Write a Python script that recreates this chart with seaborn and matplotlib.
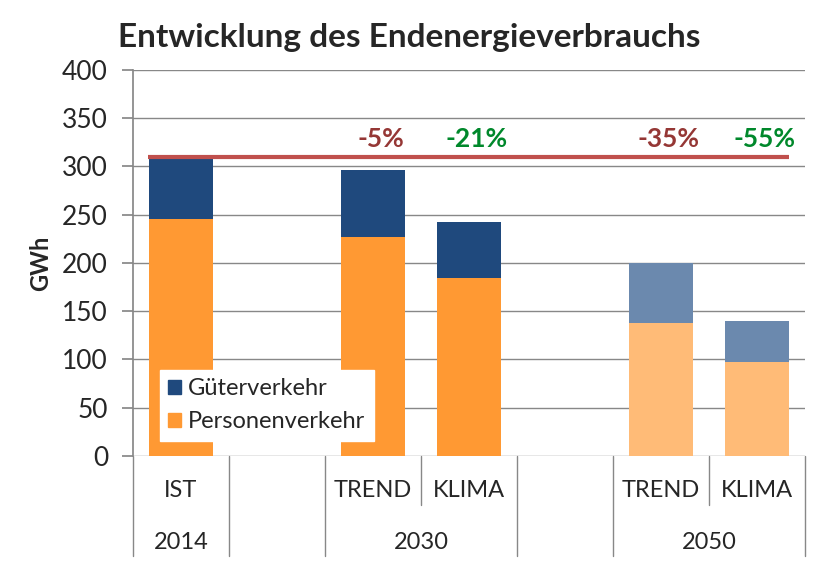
import numpy as np
import pandas as pd
import matplotlib.pyplot as plt
import matplotlib.transforms as mtransforms
from matplotlib.patches import Patch
import seaborn as sns

# data
slots = ["IST", "b1", "TREND30", "KLIMA30", "b2", "TREND50", "KLIMA50"]
slot_labels = ["IST", "", "TREND", "KLIMA", "", "TREND", "KLIMA"]
bars = ["IST", "TREND30", "KLIMA30", "TREND50", "KLIMA50"]
personen = [246, 227, 184, 138, 97]
gueter = [62, 69, 59, 62, 43]
years = ["2014", "", "2030", "", "2050"]
year_spans = [(0, 0), (1, 1), (2, 3), (4, 4), (5, 6)]
reference = 310
pct_labels = ["-5%", "-21%", "-35%", "-55%"]
pct_slots = ["TREND30", "KLIMA30", "TREND50", "KLIMA50"]
pct_colors = ["#953735", "#00882B", "#953735", "#00882B"]

sns.set_theme(style="white")
plt.rcParams['font.family'] = ['Lato', 'DejaVu Sans']

df = pd.DataFrame({"slot": bars,
                   "Personenverkehr": personen,
                   "total": np.array(personen) + np.array(gueter)})

blue_pal = {"IST": "#1F497D", "TREND30": "#1F497D", "KLIMA30": "#1F497D",
            "TREND50": "#6B89AE", "KLIMA50": "#6B89AE"}
orange_pal = {"IST": "#FF9933", "TREND30": "#FF9933", "KLIMA30": "#FF9933",
              "TREND50": "#FFBB77", "KLIMA50": "#FFBB77"}

fig = plt.figure(figsize=(8.18, 5.77), dpi=100)
ax = fig.add_axes([0.1626, 0.2097, 0.8215, 0.669])

sns.barplot(data=df, x="slot", y="total", hue="slot", palette=blue_pal,
            order=slots, hue_order=bars, width=0.67, dodge=False,
            legend=False, saturation=1, linewidth=0, ax=ax, zorder=3)
sns.barplot(data=df, x="slot", y="Personenverkehr", hue="slot", palette=orange_pal,
            order=slots, hue_order=bars, width=0.67, dodge=False,
            legend=False, saturation=1, linewidth=0, ax=ax, zorder=3)

ax.set_xlim(-0.5, 6.5)
ax.set_ylim(0, 400)
ax.set_yticks(range(0, 401, 50))
ax.tick_params(axis='y', labelsize=19, length=8, color="#888888", direction="out", left=True, pad=10)
ax.yaxis.grid(True, color="#888888", linewidth=1)
ax.set_axisbelow(True)
ax.set_xticks([])
ax.set_xlabel("")
ax.set_ylabel("GWh", fontsize=17, fontweight="bold", labelpad=7)
for s in ["top", "right", "bottom"]:
    ax.spines[s].set_visible(False)
ax.spines["left"].set_color("#888888")

# reference line
ax.hlines(reference, -0.34, 6.33, color="#C0504D", linewidth=3, zorder=4)
for lab, sl, c in zip(pct_labels, pct_slots, pct_colors):
    ax.text(slots.index(sl) + 0.08, 329, lab, color=c, fontsize=19, fontweight="bold",
            ha="center", va="center")

# category table under the axis
tr = mtransforms.blended_transform_factory(ax.transData, ax.transAxes)
bottom = -0.259
mid = -0.127
full_lines = [-0.5, 0.5, 1.5, 3.5, 4.5, 6.5]
short_lines = [2.5, 5.5]
for x in full_lines:
    ax.plot([x, x], [0, bottom], color="#888888", lw=1, transform=tr, clip_on=False)
for x in short_lines:
    ax.plot([x, x], [0, mid], color="#888888", lw=1, transform=tr, clip_on=False)
for i, lab in enumerate(slot_labels):
    ax.text(i, -0.09, lab, transform=tr, ha="center", va="center", fontsize=17)
for yr, (a, b) in zip(years, year_spans):
    ax.text((a + b) / 2, -0.225, yr, transform=tr, ha="center", va="center", fontsize=17)

handles = [Patch(color="#1F497D", label="Güterverkehr"),
           Patch(color="#FF9933", label="Personenverkehr")]
leg = ax.legend(handles=handles, loc="lower left", bbox_to_anchor=(0.04, 0.04),
                fontsize=17, frameon=True, fancybox=False, edgecolor="white",
                framealpha=1, handlelength=0.55, handleheight=0.55, handletextpad=0.3,
                borderpad=0.35, labelspacing=0.5, borderaxespad=0)

fig.text(0.5, 0.935, "Entwicklung des Endenergieverbrauchs", ha="center", va="center",
         fontsize=24, fontweight="bold")

fig.savefig("out.png", dpi=100)
